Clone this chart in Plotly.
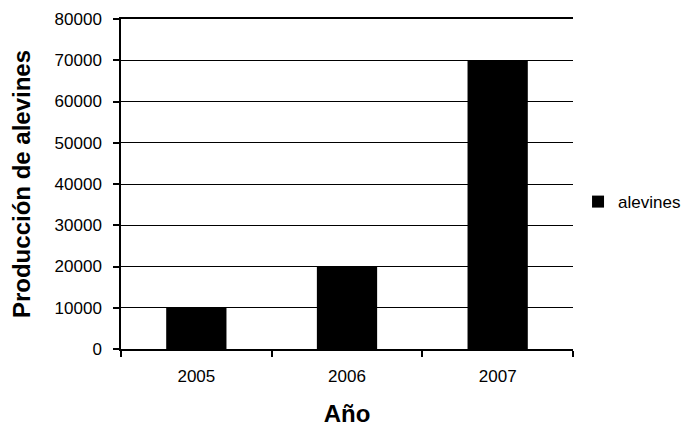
import plotly.graph_objects as go

years = ["2005", "2006", "2007"]
alevines = [10000, 20000, 70000]
series_name = "alevines"
x_title = "Año"
y_title = "Producción de alevines"

FONT = "Liberation Sans, Arial, sans-serif"

fig = go.Figure()
fig.add_trace(go.Bar(
    x=years, y=alevines, name=series_name,
    marker=dict(color="black", line=dict(width=0)),
    showlegend=True,
))

# page body has an 8px default margin, so the figure is sized to fit the window
fig.update_layout(
    width=683, height=420,
    margin=dict(l=113, r=118, t=11, b=79, autoexpand=False),
    paper_bgcolor="white", plot_bgcolor="white",
    bargap=0.6,
    font=dict(family=FONT, color="black", size=17),
    showlegend=True,
    legend=dict(xref="container", yref="container", x=0.8346, y=0.538,
                xanchor="left", yanchor="middle",
                font=dict(size=17, family=FONT, color="black"),
                bgcolor="rgba(0,0,0,0)", itemwidth=30),
    xaxis=dict(
        type="category", automargin=False,
        showline=True, linecolor="black", linewidth=1.5, mirror=True,
        ticks="outside", ticklen=6, tickcolor="black", tickwidth=1.5,
        tickson="boundaries",
        showgrid=False,
        ticklabelstandoff=11,
        tickfont=dict(size=17, family=FONT),
        title=dict(text=x_title, font=dict(size=24, family=FONT, weight="bold"), standoff=20),
    ),
    yaxis=dict(
        range=[0, 80000], dtick=10000, tickformat="d", automargin=False,
        showline=True, linecolor="black", linewidth=1.5,
        ticks="outside", ticklen=6, tickcolor="black", tickwidth=1.5,
        showgrid=True, gridcolor="black", gridwidth=1.2,
        zeroline=False,
        ticklabelstandoff=8,
        tickfont=dict(size=17, family=FONT),
        title=dict(text=y_title, font=dict(size=24, family=FONT, weight="bold"), standoff=20),
    ),
)

fig.write_html("out.html")
